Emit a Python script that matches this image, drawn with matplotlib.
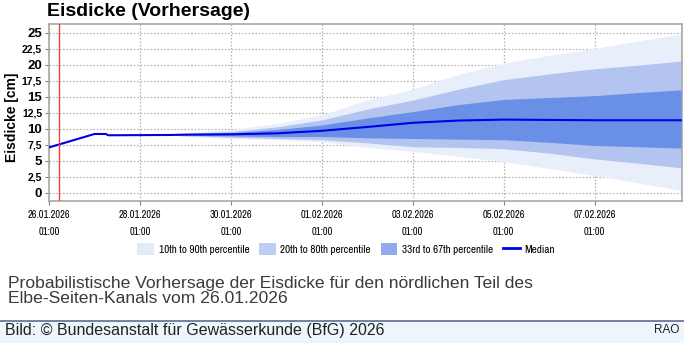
import matplotlib
matplotlib.use("Agg")
import matplotlib.pyplot as plt
from matplotlib import font_manager
from matplotlib.font_manager import FontProperties
from matplotlib.patches import Patch, Rectangle
from matplotlib.lines import Line2D

# ---- data (days since 26.01.2026 01:00) ----
median_t = [0.0, 1.0, 1.25, 1.3, 2.7, 3.0, 4.0, 5.0, 6.0, 7.0, 8.0, 9.0, 10.0, 11.0, 12.0, 13.0, 13.9]
median_v = [7.1, 9.2, 9.2, 9.0, 9.05, 9.1, 9.15, 9.3, 9.7, 10.3, 10.95, 11.3, 11.45, 11.4, 11.35, 11.35, 11.35]

band_t = [2.7, 3.0, 4.0, 5.0, 6.0, 7.0, 8.0, 9.0, 10.0, 11.0, 12.0, 13.0, 13.9]
p10 = [9.05, 8.8, 8.5, 8.3, 8.0, 7.1, 6.5, 5.7, 4.9, 3.8, 2.7, 1.5, 0.4]
p90 = [9.05, 9.4, 9.9, 10.8, 12.2, 14.5, 16.2, 18.5, 20.3, 21.5, 22.6, 23.8, 24.8]
p20 = [9.05, 8.9, 8.7, 8.5, 8.3, 7.8, 7.2, 7.1, 6.9, 6.2, 5.3, 4.6, 3.9]
p80 = [9.05, 9.3, 9.6, 10.3, 11.4, 13.1, 14.5, 16.2, 17.7, 18.6, 19.4, 20.0, 20.6]
p33 = [9.05, 9.0, 8.9, 8.8, 8.8, 8.6, 8.5, 8.4, 8.3, 7.9, 7.4, 7.2, 7.0]
p67 = [9.05, 9.2, 9.4, 9.9, 10.6, 11.7, 12.7, 13.8, 14.6, 14.9, 15.2, 15.7, 16.1]

now_t = 0.22
x_ticks = [0, 2, 4, 6, 8, 10, 12]
x_labels = ["26.01.2026\n01:00", "28.01.2026\n01:00", "30.01.2026\n01:00", "01.02.2026\n01:00",
            "03.02.2026\n01:00", "05.02.2026\n01:00", "07.02.2026\n01:00"]
y_ticks = [0, 2.5, 5, 7.5, 10, 12.5, 15, 17.5, 20, 22.5, 25]
y_labels = ["0", "2,5", "5", "7,5", "10", "12,5", "15", "17,5", "20", "22,5", "25"]
legend_labels = ["10th to 90th percentile", "20th to 80th percentile", "33rd to 67th percentile", "Median"]

# ---- fonts ----
sans = "Liberation Sans"
narrow_file = None
cands = []
for f in font_manager.fontManager.ttflist:
    nm = f.name
    if f.weight not in ("normal", 400, "regular") or f.style != "normal":
        continue
    fn = f.fname.lower()
    if "narrow" in nm.lower() or "narrow" in fn:
        cands.append((0, f.fname))
    elif "condensed" in nm.lower() or "condensed" in fn or f.stretch in ("condensed", "semi-condensed"):
        if "bold" in fn or "oblique" in fn or "italic" in fn:
            continue
        pr = 1 if "roboto" in fn else (2 if "dejavusans" in fn.replace("-", "") else 3)
        cands.append((pr, f.fname))
if cands:
    cands.sort()
    narrow_file = cands[0][1]


def nprop(size):
    if narrow_file:
        return FontProperties(fname=narrow_file, size=size)
    return FontProperties(family=sans, size=size)


W, H = 684, 343
fig = plt.figure(figsize=(W / 100, H / 100), dpi=100)
ax = fig.add_axes([49 / W, 1 - 200.5 / H, (682 - 49) / W, (200.5 - 24) / H])

c1, c2, c3 = "#E9EEFB", "#B4C4F1", "#6A8FE6"
ax.fill_between(band_t, p10, p90, color=c1, lw=0, zorder=1)
ax.fill_between(band_t, p20, p80, color=c2, lw=0, zorder=2)
ax.fill_between(band_t, p33, p67, color=c3, lw=0, zorder=3)
ax.plot(median_t, median_v, color="#0000E6", lw=1.5, zorder=5)
ax.axvline(now_t, color="#F04040", lw=1.0, zorder=6)

ax.set_xlim(0, 13.92)
ax.set_ylim(-1.2, 26.4)
ax.set_xticks(x_ticks)
xsize = 7.5 if narrow_file else 6.8
ax.set_xticklabels(x_labels, fontproperties=nprop(xsize), linespacing=1.9)
ax.set_yticks(y_ticks)
ax.set_yticklabels(y_labels, family=sans, fontweight="bold")
for lab, v in zip(ax.get_yticklabels(), y_ticks):
    lab.set_fontsize(9.5 if v % 5 == 0 else 7.5)
ax.tick_params(axis="both", length=3, color="#808080", width=0.8, pad=2)
ax.tick_params(axis="x", pad=4)
ax.grid(True, color="#B0B0B0", ls=(0, (1.2, 1.5)), lw=0.9, zorder=0)
ax.set_axisbelow(True)
for s in ax.spines.values():
    s.set_color("#A8A8A8")
    s.set_linewidth(1.2)
ax.set_ylabel("Eisdicke [cm]", family=sans, fontweight="bold", fontsize=10)
ax.yaxis.set_label_coords(-0.048, 0.47)

fig.text(47 / W, 1 - 11 / H, "Eisdicke (Vorhersage)", family=sans, fontweight="bold",
         fontsize=14, va="center", ha="left")

handles = [Patch(facecolor="#E5EAF9", edgecolor="none"),
           Patch(facecolor="#C0CDF2", edgecolor="none"),
           Patch(facecolor="#93AAEC", edgecolor="none"),
           Line2D([0], [0], color="#0000E6", lw=2)]
lsize = 8 if narrow_file else 7
fig.legend(handles, legend_labels, ncol=4, loc="center", bbox_to_anchor=(346 / W, 1 - 249 / H),
           frameon=False, prop=nprop(lsize), handlelength=1.5, handleheight=1.2,
           handletextpad=0.4, columnspacing=0.9)

fig.text(8 / W, 1 - 291 / H, "Probabilistische Vorhersage der Eisdicke für den nördlichen Teil des\nElbe-Seiten-Kanals vom 26.01.2026",
         family=sans, fontsize=12.6, color="#3A3A3A", va="center", ha="left", linespacing=0.98)

fig.patches.append(Rectangle((0, 0), 1, 1 - 321 / H, transform=fig.transFigure,
                             facecolor="#EEF5FD", edgecolor="none", zorder=0))
fig.lines.append(Line2D([0, 1], [1 - 321 / H] * 2, transform=fig.transFigure, color="#5B6E8E", lw=1.2))
fig.text(5 / W, 1 - 330 / H, "Bild: © Bundesanstalt für Gewässerkunde (BfG) 2026", family=sans,
         fontsize=11.5, color="#222222", va="center", ha="left")
fig.text(679 / W, 1 - 330 / H, "RAO", family=sans, fontsize=8.5, color="#222222", va="center", ha="right")

fig.savefig("out.png", dpi=100)
